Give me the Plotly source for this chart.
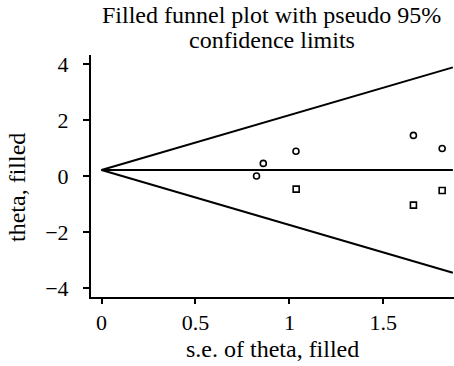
import plotly.graph_objects as go

# observed studies
se_obs = [0.825, 0.861, 1.035, 1.66, 1.813]
theta_obs = [0.0, 0.45, 0.885, 1.45, 0.98]
# filled (imputed) studies
se_fill = [1.036, 1.66, 1.813]
theta_fill = [-0.47, -1.04, -0.52]
# pooled estimate and funnel extent
theta_pooled = 0.214
se_max = 1.87
z = 1.96

x_ticks = [0, 0.5, 1, 1.5]
x_ticktext = ["0", "0.5", "1", "1.5"]
y_ticks = [-4, -2, 0, 2, 4]
y_ticktext = ["−4", "−2", "0", "2", "4"]

FONT = "Liberation Serif"
W, H = 454, 366
L, R, T, B = 91, 0, 55, 69
PW, PH = W - L - R, H - T - B


def px(x):
    return (x - L) / PW


def py(y):
    return (H - B - y) / PH


fig = go.Figure()

fig.add_trace(go.Scatter(
    x=[0, se_max], y=[theta_pooled, theta_pooled + z * se_max],
    mode="lines", line=dict(color="black", width=2), hoverinfo="skip"))
fig.add_trace(go.Scatter(
    x=[0, se_max], y=[theta_pooled, theta_pooled - z * se_max],
    mode="lines", line=dict(color="black", width=2), hoverinfo="skip"))
fig.add_trace(go.Scatter(
    x=[0, se_max], y=[theta_pooled, theta_pooled],
    mode="lines", line=dict(color="black", width=2), hoverinfo="skip"))
fig.add_trace(go.Scatter(
    x=se_obs, y=theta_obs, mode="markers", cliponaxis=False,
    marker=dict(symbol="circle-open", size=6, color="black", line=dict(width=1.6))))
fig.add_trace(go.Scatter(
    x=se_fill, y=theta_fill, mode="markers", cliponaxis=False,
    marker=dict(symbol="square-open", size=6, color="black", line=dict(width=1.6))))

ann = [
    dict(text="Filled funnel plot with pseudo 95%", x=px(271), y=py(15),
         font=dict(size=24)),
    dict(text="confidence limits", x=px(272), y=py(40), font=dict(size=24)),
    dict(text="s.e. of theta, filled", x=px(272), y=py(349), font=dict(size=24)),
    dict(text="theta, filled", x=px(17), y=py(188), textangle=-90,
         font=dict(size=24)),
]
for a in ann:
    a.update(xref="paper", yref="paper", xanchor="center", yanchor="middle",
             showarrow=False)
    a["font"].update(family=FONT, color="black")

fig.update_layout(
    width=W, height=H,
    margin=dict(l=L, r=R, t=T, b=B, pad=0),
    paper_bgcolor="white", plot_bgcolor="white",
    showlegend=False,
    font=dict(family=FONT, size=22, color="black"),
    annotations=ann,
    xaxis=dict(range=[-0.056, 1.876], tickvals=x_ticks, ticktext=x_ticktext,
               automargin=False, ticklabelstandoff=0,
               showgrid=False, zeroline=False, showline=True, linecolor="black",
               linewidth=2, ticks="outside", ticklen=5, tickwidth=2, tickcolor="black"),
    yaxis=dict(range=[-4.32, 4.32], tickvals=y_ticks, ticktext=y_ticktext,
               automargin=False, ticklabelstandoff=10,
               showgrid=False, zeroline=False, showline=True, linecolor="black",
               linewidth=2, ticks="outside", ticklen=6, tickwidth=2, tickcolor="black"),
)

fig.write_html(
    "out.html",
    config={"displayModeBar": False},
    post_script="document.body.style.margin='0';document.body.style.overflow='hidden';",
)
